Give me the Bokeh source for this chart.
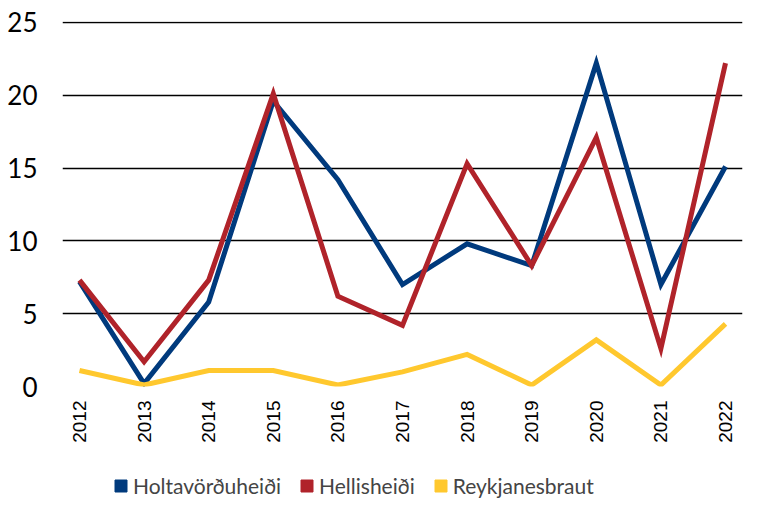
from bokeh.plotting import figure
from bokeh.layouts import column
from bokeh.models import Legend, LegendItem, FixedTicker, Range1d
from bokeh.embed import file_html
from bokeh.resources import INLINE

years = [2012, 2013, 2014, 2015, 2016, 2017, 2018, 2019, 2020, 2021, 2022]
holtavorduheidi = [7.2, 0.2, 5.8, 19.6, 14.2, 7.0, 9.8, 8.3, 22.2, 7.0, 15.1]
hellisheidi = [7.3, 1.7, 7.3, 20.1, 6.2, 4.2, 15.3, 8.3, 17.1, 2.6, 22.2]
reykjanesbraut = [1.1, 0.1, 1.1, 1.1, 0.1, 1.0, 2.2, 0.1, 3.2, 0.1, 4.3]
series_names = ["Holtavörðuheiði", "Hellisheiði", "Reykjanesbraut"]
colors = ["#003A7D", "#B0232A", "#FFC82E"]
y_ticks = [0, 5, 10, 15, 20, 25]

p = figure(width=747, height=445, output_backend="svg", toolbar_location=None,
           x_range=Range1d(2011.737, 2022.263), y_range=Range1d(0, 25.06),
           min_border_left=62, min_border_right=5, min_border_top=21, min_border_bottom=57)
p.outline_line_color = None
p.xgrid.grid_line_color = None
p.ygrid.grid_line_color = "black"
p.ygrid.grid_line_width = 1.5
p.yaxis.ticker = FixedTicker(ticks=y_ticks)
p.xaxis.ticker = FixedTicker(ticks=years)
for ax in (p.xaxis[0], p.yaxis[0]):
    ax.axis_line_color = None
    ax.major_tick_line_color = None
    ax.minor_tick_line_color = None
    ax.major_label_text_color = "black"
p.yaxis.major_label_text_font = "Lato"
p.yaxis.major_label_text_font_size = "26px"
p.yaxis.major_label_standoff = 19
p.xaxis.major_label_text_font = "Liberation Sans"
p.xaxis.major_label_text_font_size = "19px"
p.xaxis.major_label_orientation = 1.5708
p.xaxis.major_label_standoff = 8

for vals, c in zip([holtavorduheidi, hellisheidi, reykjanesbraut], colors):
    p.line(years, vals, line_color=c, line_width=5, line_join="miter")

# legend strip below the chart
lg = figure(width=747, height=53, output_backend="svg", toolbar_location=None,
            x_range=Range1d(0, 1), y_range=Range1d(0, 1),
            min_border_left=62, min_border_right=5, min_border_top=0, min_border_bottom=0)
lg.axis.visible = False
lg.grid.visible = False
lg.outline_line_color = None
items = []
for name, c in zip(series_names, colors):
    dummy = lg.quad(left=[-5], right=[-4], bottom=[-5], top=[-4], fill_color=c, line_color=c)
    items.append(LegendItem(label=name, renderers=[dummy]))
legend = Legend(items=items, orientation="horizontal", location=(51, 0),
                label_text_font="Lato", label_text_font_size="21px",
                glyph_width=15, glyph_height=15, label_standoff=5, spacing=18,
                border_line_color=None, background_fill_alpha=0, padding=4, margin=0)
lg.add_layout(legend)

layout = column(p, lg, spacing=0)
open("out.html", "w").write(file_html(layout, INLINE))
